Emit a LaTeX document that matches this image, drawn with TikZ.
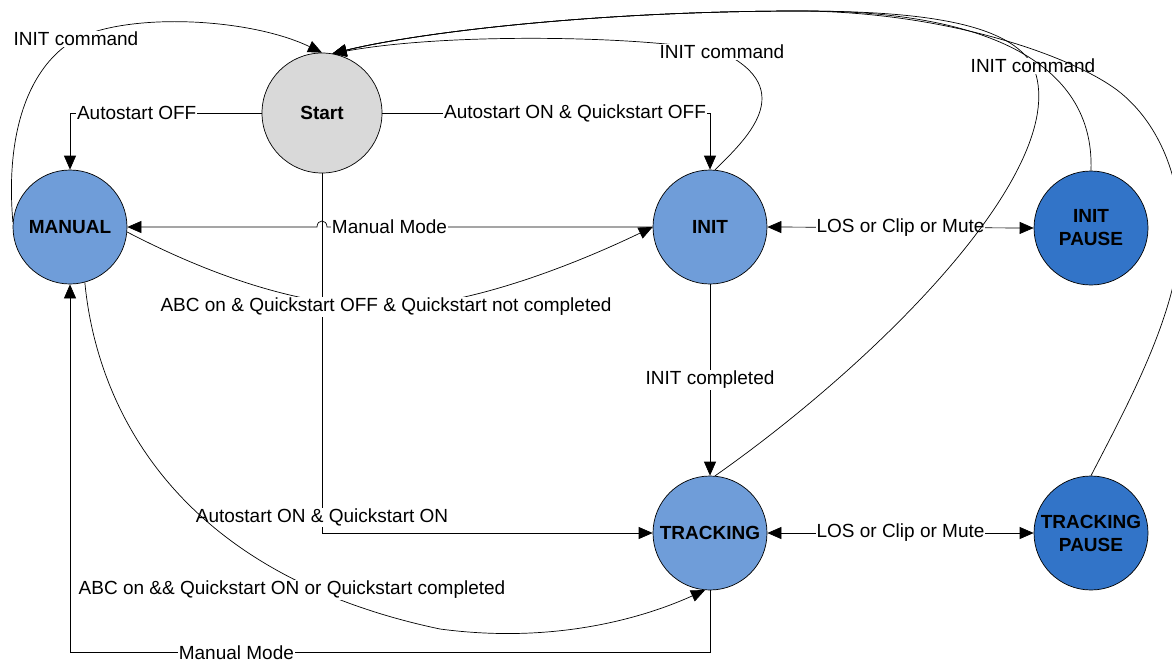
\documentclass[tikz,border=0pt]{standalone}
\usepackage{fontspec}
\setmainfont{Liberation Sans}
\usepackage{tikz}
\usetikzlibrary{arrows.meta}

\begin{document}
\begin{tikzpicture}[>={Triangle[length=14pt,width=12pt]},x=1pt,y=-1pt,line width=0.7pt,
  state/.style={draw,circle,minimum size=114pt,inner sep=0pt,align=center,
    font=\fontsize{19}{23}\selectfont\bfseries},
  lbl/.style={fill=white,inner sep=1pt,font=\fontsize{19}{23}\selectfont}]
%%
%%
\definecolor{c0}{RGB}{217,217,217}%
\definecolor{c1}{RGB}{111,157,217}%
\definecolor{c2}{RGB}{50,116,200}%
%
\useasboundingbox (0,0) rectangle (1172,662);
  \node (start) at (322,113) [state,fill=c0,minimum size=120pt] {Start};
  \node (manual) at (70,227) [state,fill=c1] {MANUAL};
  \node (init) at (710,227) [state,fill=c1] {INIT};
  \node (tracking) at (710,533) [state,fill=c1] {TRACKING};
  \node (initpause) at (1091,228) [state,fill=c2] {INIT\\PAUSE};
  \node (trackpause) at (1091,533) [state,fill=c2] {TRACKING\\PAUSE};
  \coordinate (top) at (800,11);

  \draw[->] (start.west) -| node[lbl,pos=0.326] {Autostart OFF} (manual.north);
  \draw[->] (start.east) -| node[lbl,pos=0.294] {Autostart ON \& Quickstart OFF} (init.north);
  \draw[->] (start.south) |- node[lbl,pos=0.478] {Autostart ON \& Quickstart ON} (tracking.west);
  \draw[->] (init.west) -- node[lbl,pos=0.808] {Manual Mode} (327,227)
    .. controls (327,219) and (317,219) .. (317,227) -- (manual.east);
  \draw[->] (init.south) -- node[lbl] {INIT completed} (tracking.north);
  \draw[<->] (init.east) -- node[lbl] {LOS or Clip or Mute} (initpause.west);
  \draw[<->] (tracking.east) -- node[lbl] {LOS or Clip or Mute} (trackpause.west);
  \draw[->] (tracking.south) -- ++(0,62) -| node[lbl,pos=0.37] {Manual Mode} (manual.south);

  \draw[->] (manual.-5) .. controls (210,275) and (300,307) .. (386,307)
    node[lbl] {ABC on \& Quickstart OFF \& Quickstart not completed}
    .. controls (470,307) and (580,262) .. (init.west);
  \draw[->] (manual.-75) .. controls (95,390) and (160,570) .. (440,629)
    .. controls (560,645) and (650,615) .. (tracking.-95);
  \node (abc) at (292,590) [lbl] {ABC on \&\& Quickstart ON or Quickstart completed};

  %% INIT command back to Start
  \draw[->] (manual.175) .. controls (5,130) and (30,65) .. (76,39) node[lbl] {INIT command}
    .. controls (130,12) and (250,18) .. (start.north);
  \draw[->] (init.85) .. controls (745,140) and (800,90) .. (722,52) node[lbl] {INIT command}
    .. controls (650,36) and (450,32) .. (start.80);
  \draw[->] (tracking.85) .. controls (880,360) and (1075,165) .. (1033,66) node[lbl] {INIT command}
    .. controls (1010,25) and (930,11) .. (top) .. controls (600,11) and (420,32) .. (start.80);
  \draw[->] (initpause.north) .. controls (1095,60) and (980,10) .. (top)
    .. controls (600,11) and (420,32) .. (start.80);
  \draw[->] (trackpause.north) .. controls (1130,400) and (1185,300) .. (1180,220)
    .. controls (1176,160) and (1150,115) .. (1117,90)
    .. controls (1073,57) and (950,12) .. (top) .. controls (600,11) and (420,32) .. (start.80);
%
\end{tikzpicture}
\end{document}
